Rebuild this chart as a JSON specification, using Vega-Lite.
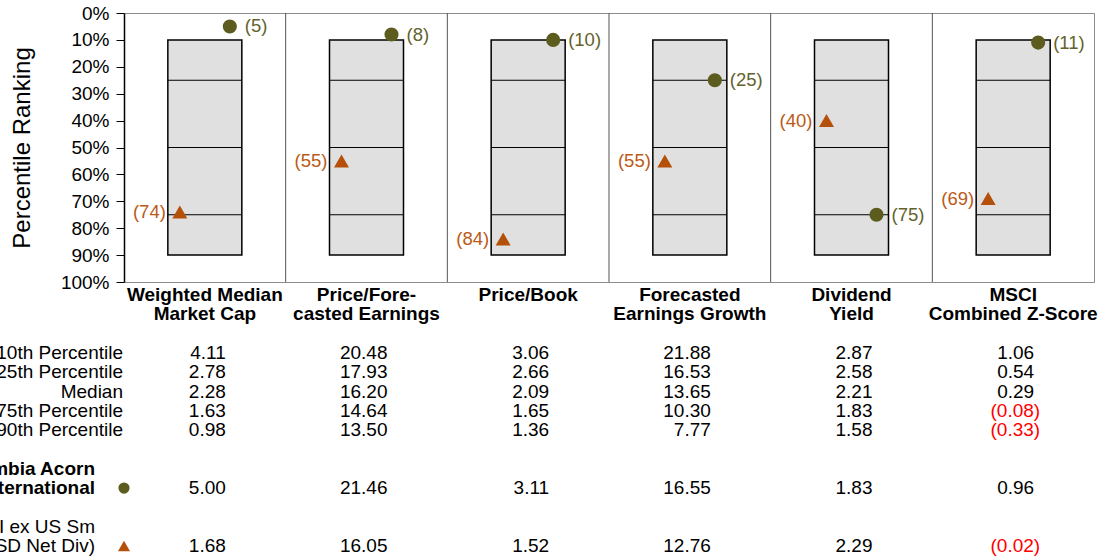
{
  "$schema": "https://vega.github.io/schema/vega-lite/v6.json",
  "width": 970,
  "height": 269,
  "autosize": {"type": "none"},
  "padding": {"left": 124, "top": 13, "right": 10, "bottom": 275},
  "background": "white",
  "config": {"font": "Liberation Sans", "view": {"stroke": "#8c8c8c", "strokeWidth": 1}},
  "datasets": {
    "metrics": [
      {"metric": "Weighted Median Market Cap", "top": 10, "q1": 25, "mid": 50, "q3": 75, "bottom": 90, "fund": 5, "bench": 74, "fundLab": "(5)", "benchLab": "(74)"},
      {"metric": "Price/Forecasted Earnings", "top": 10, "q1": 25, "mid": 50, "q3": 75, "bottom": 90, "fund": 8, "bench": 55, "fundLab": "(8)", "benchLab": "(55)"},
      {"metric": "Price/Book", "top": 10, "q1": 25, "mid": 50, "q3": 75, "bottom": 90, "fund": 10, "bench": 84, "fundLab": "(10)", "benchLab": "(84)"},
      {"metric": "Forecasted Earnings Growth", "top": 10, "q1": 25, "mid": 50, "q3": 75, "bottom": 90, "fund": 25, "bench": 55, "fundLab": "(25)", "benchLab": "(55)"},
      {"metric": "Dividend Yield", "top": 10, "q1": 25, "mid": 50, "q3": 75, "bottom": 90, "fund": 75, "bench": 40, "fundLab": "(75)", "benchLab": "(40)"},
      {"metric": "MSCI Combined Z-Score", "top": 10, "q1": 25, "mid": 50, "q3": 75, "bottom": 90, "fund": 11, "bench": 69, "fundLab": "(11)", "benchLab": "(69)"}
    ],
    "table": [
      {"kind": "head", "metric": "Weighted Median Market Cap", "line": 0, "text": "Weighted Median"},
      {"kind": "head", "metric": "Weighted Median Market Cap", "line": 1, "text": "Market Cap"},
      {"kind": "head", "metric": "Price/Forecasted Earnings", "line": 0, "text": "Price/Fore-"},
      {"kind": "head", "metric": "Price/Forecasted Earnings", "line": 1, "text": "casted Earnings"},
      {"kind": "head", "metric": "Price/Book", "line": 0, "text": "Price/Book"},
      {"kind": "head", "metric": "Forecasted Earnings Growth", "line": 0, "text": "Forecasted"},
      {"kind": "head", "metric": "Forecasted Earnings Growth", "line": 1, "text": "Earnings Growth"},
      {"kind": "head", "metric": "Dividend Yield", "line": 0, "text": "Dividend"},
      {"kind": "head", "metric": "Dividend Yield", "line": 1, "text": "Yield"},
      {"kind": "head", "metric": "MSCI Combined Z-Score", "line": 0, "text": "MSCI"},
      {"kind": "head", "metric": "MSCI Combined Z-Score", "line": 1, "text": "Combined Z-Score"},
      {"kind": "rowlab", "metric": "_label", "line": 3, "text": "10th Percentile"},
      {"kind": "rowlab", "metric": "_label", "line": 4, "text": "25th Percentile"},
      {"kind": "rowlab", "metric": "_label", "line": 5, "text": "Median"},
      {"kind": "rowlab", "metric": "_label", "line": 6, "text": "75th Percentile"},
      {"kind": "rowlab", "metric": "_label", "line": 7, "text": "90th Percentile"},
      {"kind": "fundlab", "metric": "_label", "line": 9, "text": "Columbia Acorn"},
      {"kind": "fundlab", "metric": "_label", "line": 10, "text": "International"},
      {"kind": "benchlab", "metric": "_label", "line": 12, "text": "MSCI ACWI ex US Sm"},
      {"kind": "benchlab", "metric": "_label", "line": 13, "text": "Cap (USD Net Div)"},
      {"kind": "fundmark", "metric": "_label", "line": 10},
      {"kind": "benchmark", "metric": "_label", "line": 13},
      {"kind": "val", "metric": "Weighted Median Market Cap", "line": 3, "value": 4.11},
      {"kind": "val", "metric": "Price/Forecasted Earnings", "line": 3, "value": 20.48},
      {"kind": "val", "metric": "Price/Book", "line": 3, "value": 3.06},
      {"kind": "val", "metric": "Forecasted Earnings Growth", "line": 3, "value": 21.88},
      {"kind": "val", "metric": "Dividend Yield", "line": 3, "value": 2.87},
      {"kind": "val", "metric": "MSCI Combined Z-Score", "line": 3, "value": 1.06},
      {"kind": "val", "metric": "Weighted Median Market Cap", "line": 4, "value": 2.78},
      {"kind": "val", "metric": "Price/Forecasted Earnings", "line": 4, "value": 17.93},
      {"kind": "val", "metric": "Price/Book", "line": 4, "value": 2.66},
      {"kind": "val", "metric": "Forecasted Earnings Growth", "line": 4, "value": 16.53},
      {"kind": "val", "metric": "Dividend Yield", "line": 4, "value": 2.58},
      {"kind": "val", "metric": "MSCI Combined Z-Score", "line": 4, "value": 0.54},
      {"kind": "val", "metric": "Weighted Median Market Cap", "line": 5, "value": 2.28},
      {"kind": "val", "metric": "Price/Forecasted Earnings", "line": 5, "value": 16.20},
      {"kind": "val", "metric": "Price/Book", "line": 5, "value": 2.09},
      {"kind": "val", "metric": "Forecasted Earnings Growth", "line": 5, "value": 13.65},
      {"kind": "val", "metric": "Dividend Yield", "line": 5, "value": 2.21},
      {"kind": "val", "metric": "MSCI Combined Z-Score", "line": 5, "value": 0.29},
      {"kind": "val", "metric": "Weighted Median Market Cap", "line": 6, "value": 1.63},
      {"kind": "val", "metric": "Price/Forecasted Earnings", "line": 6, "value": 14.64},
      {"kind": "val", "metric": "Price/Book", "line": 6, "value": 1.65},
      {"kind": "val", "metric": "Forecasted Earnings Growth", "line": 6, "value": 10.30},
      {"kind": "val", "metric": "Dividend Yield", "line": 6, "value": 1.83},
      {"kind": "val", "metric": "MSCI Combined Z-Score", "line": 6, "value": -0.08},
      {"kind": "val", "metric": "Weighted Median Market Cap", "line": 7, "value": 0.98},
      {"kind": "val", "metric": "Price/Forecasted Earnings", "line": 7, "value": 13.50},
      {"kind": "val", "metric": "Price/Book", "line": 7, "value": 1.36},
      {"kind": "val", "metric": "Forecasted Earnings Growth", "line": 7, "value": 7.77},
      {"kind": "val", "metric": "Dividend Yield", "line": 7, "value": 1.58},
      {"kind": "val", "metric": "MSCI Combined Z-Score", "line": 7, "value": -0.33},
      {"kind": "val", "metric": "Weighted Median Market Cap", "line": 10, "value": 5.00},
      {"kind": "val", "metric": "Price/Forecasted Earnings", "line": 10, "value": 21.46},
      {"kind": "val", "metric": "Price/Book", "line": 10, "value": 3.11},
      {"kind": "val", "metric": "Forecasted Earnings Growth", "line": 10, "value": 16.55},
      {"kind": "val", "metric": "Dividend Yield", "line": 10, "value": 1.83},
      {"kind": "val", "metric": "MSCI Combined Z-Score", "line": 10, "value": 0.96},
      {"kind": "val", "metric": "Weighted Median Market Cap", "line": 13, "value": 1.68},
      {"kind": "val", "metric": "Price/Forecasted Earnings", "line": 13, "value": 16.05},
      {"kind": "val", "metric": "Price/Book", "line": 13, "value": 1.52},
      {"kind": "val", "metric": "Forecasted Earnings Growth", "line": 13, "value": 12.76},
      {"kind": "val", "metric": "Dividend Yield", "line": 13, "value": 2.29},
      {"kind": "val", "metric": "MSCI Combined Z-Score", "line": 13, "value": -0.02}
    ]
  },
  "resolve": {"scale": {"y": "independent"}, "axis": {"y": "independent"}},
  "layer": [
    {
      "data": {"name": "metrics"},
      "mark": {"type": "bar", "width": 74, "fill": "#e0e0e0", "stroke": "#000000", "strokeWidth": 1.5},
      "encoding": {
        "x": {"field": "metric", "type": "nominal", "scale": {"domain": ["_label", "Weighted Median Market Cap", "Price/Forecasted Earnings", "Price/Book", "Forecasted Earnings Growth", "Dividend Yield", "MSCI Combined Z-Score"], "range": [-161.667, 970], "paddingInner": 0, "paddingOuter": 0}, "axis": null},
        "y": {"field": "top", "type": "quantitative", "scale": {"domain": [0, 100], "reverse": true, "nice": false, "zero": false},
          "axis": {"orient": "left", "title": "Percentile Ranking", "values": [0, 10, 20, 30, 40, 50, 60, 70, 80, 90, 100], "labelExpr": "datum.value + '%'", "grid": false, "domain": true, "domainColor": "#000000", "domainWidth": 1.5, "ticks": true, "tickColor": "#000000", "tickSize": 8, "tickWidth": 1, "labels": true, "labelFontSize": 19, "labelColor": "#000000", "labelPadding": 7, "labelOverlap": false, "labelFont": "Liberation Sans", "titleFont": "Liberation Sans", "titleFontSize": 24, "titleFontWeight": "normal", "titleColor": "#000000", "titlePadding": 26}},
        "y2": {"field": "bottom"}
      }
    },
    {
      "data": {"name": "metrics"},
      "transform": [{"filter": "datum.metric != 'Weighted Median Market Cap'"}],
      "mark": {"type": "rule", "color": "#555555", "strokeWidth": 1},
      "encoding": {
        "x": {"field": "metric", "type": "nominal", "bandPosition": 0, "scale": {"domain": ["_label", "Weighted Median Market Cap", "Price/Forecasted Earnings", "Price/Book", "Forecasted Earnings Growth", "Dividend Yield", "MSCI Combined Z-Score"], "range": [-161.667, 970], "paddingInner": 0, "paddingOuter": 0}, "axis": null}
      }
    },
    {
      "data": {"name": "metrics"},
      "transform": [{"fold": ["q1", "mid", "q3"], "as": ["quart", "pct"]}],
      "mark": {"type": "tick", "size": 74, "thickness": 1.2, "color": "#000000", "opacity": 1},
      "encoding": {
        "x": {"field": "metric", "type": "nominal", "scale": {"domain": ["_label", "Weighted Median Market Cap", "Price/Forecasted Earnings", "Price/Book", "Forecasted Earnings Growth", "Dividend Yield", "MSCI Combined Z-Score"], "range": [-161.667, 970], "paddingInner": 0, "paddingOuter": 0}, "axis": null},
        "y": {"field": "pct", "type": "quantitative", "scale": {"domain": [0, 100], "reverse": true, "nice": false, "zero": false}, "axis": null}
      }
    },
    {
      "data": {"name": "metrics"},
      "mark": {"type": "point", "shape": "circle", "filled": true, "size": 200, "color": "#5c5c1e", "opacity": 1, "xOffset": 25},
      "encoding": {
        "x": {"field": "metric", "type": "nominal", "scale": {"domain": ["_label", "Weighted Median Market Cap", "Price/Forecasted Earnings", "Price/Book", "Forecasted Earnings Growth", "Dividend Yield", "MSCI Combined Z-Score"], "range": [-161.667, 970], "paddingInner": 0, "paddingOuter": 0}, "axis": null},
        "y": {"field": "fund", "type": "quantitative", "scale": {"domain": [0, 100], "reverse": true, "nice": false, "zero": false}, "axis": null}
      }
    },
    {
      "data": {"name": "metrics"},
      "mark": {"type": "text", "align": "left", "baseline": "middle", "xOffset": 25, "dx": 15, "fontSize": 18.5, "color": "#62622a"},
      "encoding": {
        "x": {"field": "metric", "type": "nominal", "scale": {"domain": ["_label", "Weighted Median Market Cap", "Price/Forecasted Earnings", "Price/Book", "Forecasted Earnings Growth", "Dividend Yield", "MSCI Combined Z-Score"], "range": [-161.667, 970], "paddingInner": 0, "paddingOuter": 0}, "axis": null},
        "y": {"field": "fund", "type": "quantitative", "scale": {"domain": [0, 100], "reverse": true, "nice": false, "zero": false}, "axis": null},
        "text": {"field": "fundLab"}
      }
    },
    {
      "data": {"name": "metrics"},
      "mark": {"type": "point", "shape": "triangle-up", "filled": true, "size": 225, "color": "#b4500a", "opacity": 1, "xOffset": -25},
      "encoding": {
        "x": {"field": "metric", "type": "nominal", "scale": {"domain": ["_label", "Weighted Median Market Cap", "Price/Forecasted Earnings", "Price/Book", "Forecasted Earnings Growth", "Dividend Yield", "MSCI Combined Z-Score"], "range": [-161.667, 970], "paddingInner": 0, "paddingOuter": 0}, "axis": null},
        "y": {"field": "bench", "type": "quantitative", "scale": {"domain": [0, 100], "reverse": true, "nice": false, "zero": false}, "axis": null}
      }
    },
    {
      "data": {"name": "metrics"},
      "mark": {"type": "text", "align": "right", "baseline": "middle", "xOffset": -25, "dx": -14, "fontSize": 18.5, "color": "#bb5a16"},
      "encoding": {
        "x": {"field": "metric", "type": "nominal", "scale": {"domain": ["_label", "Weighted Median Market Cap", "Price/Forecasted Earnings", "Price/Book", "Forecasted Earnings Growth", "Dividend Yield", "MSCI Combined Z-Score"], "range": [-161.667, 970], "paddingInner": 0, "paddingOuter": 0}, "axis": null},
        "y": {"field": "bench", "type": "quantitative", "scale": {"domain": [0, 100], "reverse": true, "nice": false, "zero": false}, "axis": null},
        "text": {"field": "benchLab"}
      }
    },
    {
      "data": {"name": "table"},
      "transform": [{"filter": "datum.kind == 'head'"}],
      "mark": {"type": "text", "align": "center", "baseline": "middle", "fontSize": 19, "fontWeight": "bold", "color": "#000000"},
      "encoding": {
        "x": {"field": "metric", "type": "nominal", "scale": {"domain": ["_label", "Weighted Median Market Cap", "Price/Forecasted Earnings", "Price/Book", "Forecasted Earnings Growth", "Dividend Yield", "MSCI Combined Z-Score"], "range": [-161.667, 970], "paddingInner": 0, "paddingOuter": 0}, "axis": null},
        "y": {"field": "line", "type": "quantitative", "scale": {"domain": [0, 13], "range": [282, 533], "nice": false, "zero": false}, "axis": null},
        "text": {"field": "text"}
      }
    },
    {
      "data": {"name": "table"},
      "transform": [{"filter": "datum.kind == 'val' && datum.value >= 0"}],
      "mark": {"type": "text", "align": "right", "baseline": "middle", "dx": 21, "fontSize": 19, "color": "#000000"},
      "encoding": {
        "x": {"field": "metric", "type": "nominal", "scale": {"domain": ["_label", "Weighted Median Market Cap", "Price/Forecasted Earnings", "Price/Book", "Forecasted Earnings Growth", "Dividend Yield", "MSCI Combined Z-Score"], "range": [-161.667, 970], "paddingInner": 0, "paddingOuter": 0}, "axis": null},
        "y": {"field": "line", "type": "quantitative", "scale": {"domain": [0, 13], "range": [282, 533], "nice": false, "zero": false}, "axis": null},
        "text": {"field": "value", "type": "quantitative", "format": "(.2f"}
      }
    },
    {
      "data": {"name": "table"},
      "transform": [{"filter": "datum.kind == 'val' && datum.value < 0"}],
      "mark": {"type": "text", "align": "right", "baseline": "middle", "dx": 27, "fontSize": 19, "color": "#ff0000"},
      "encoding": {
        "x": {"field": "metric", "type": "nominal", "scale": {"domain": ["_label", "Weighted Median Market Cap", "Price/Forecasted Earnings", "Price/Book", "Forecasted Earnings Growth", "Dividend Yield", "MSCI Combined Z-Score"], "range": [-161.667, 970], "paddingInner": 0, "paddingOuter": 0}, "axis": null},
        "y": {"field": "line", "type": "quantitative", "scale": {"domain": [0, 13], "range": [282, 533], "nice": false, "zero": false}, "axis": null},
        "text": {"field": "value", "type": "quantitative", "format": "(.2f"}
      }
    },
    {
      "data": {"name": "table"},
      "transform": [{"filter": "datum.kind == 'rowlab'"}],
      "mark": {"type": "text", "align": "right", "baseline": "middle", "dx": -1, "fontSize": 19, "color": "#000000"},
      "encoding": {
        "x": {"field": "metric", "type": "nominal", "bandPosition": 1, "scale": {"domain": ["_label", "Weighted Median Market Cap", "Price/Forecasted Earnings", "Price/Book", "Forecasted Earnings Growth", "Dividend Yield", "MSCI Combined Z-Score"], "range": [-161.667, 970], "paddingInner": 0, "paddingOuter": 0}, "axis": null},
        "y": {"field": "line", "type": "quantitative", "scale": {"domain": [0, 13], "range": [282, 533], "nice": false, "zero": false}, "axis": null},
        "text": {"field": "text"}
      }
    },
    {
      "data": {"name": "table"},
      "transform": [{"filter": "datum.kind == 'fundlab'"}],
      "mark": {"type": "text", "align": "right", "baseline": "middle", "dx": -29, "fontSize": 19, "fontWeight": "bold", "color": "#000000"},
      "encoding": {
        "x": {"field": "metric", "type": "nominal", "bandPosition": 1, "scale": {"domain": ["_label", "Weighted Median Market Cap", "Price/Forecasted Earnings", "Price/Book", "Forecasted Earnings Growth", "Dividend Yield", "MSCI Combined Z-Score"], "range": [-161.667, 970], "paddingInner": 0, "paddingOuter": 0}, "axis": null},
        "y": {"field": "line", "type": "quantitative", "scale": {"domain": [0, 13], "range": [282, 533], "nice": false, "zero": false}, "axis": null},
        "text": {"field": "text"}
      }
    },
    {
      "data": {"name": "table"},
      "transform": [{"filter": "datum.kind == 'benchlab'"}],
      "mark": {"type": "text", "align": "right", "baseline": "middle", "dx": -29, "fontSize": 19, "color": "#000000"},
      "encoding": {
        "x": {"field": "metric", "type": "nominal", "bandPosition": 1, "scale": {"domain": ["_label", "Weighted Median Market Cap", "Price/Forecasted Earnings", "Price/Book", "Forecasted Earnings Growth", "Dividend Yield", "MSCI Combined Z-Score"], "range": [-161.667, 970], "paddingInner": 0, "paddingOuter": 0}, "axis": null},
        "y": {"field": "line", "type": "quantitative", "scale": {"domain": [0, 13], "range": [282, 533], "nice": false, "zero": false}, "axis": null},
        "text": {"field": "text"}
      }
    },
    {
      "data": {"name": "table"},
      "transform": [{"filter": "datum.kind == 'fundmark'"}],
      "mark": {"type": "point", "shape": "circle", "filled": true, "size": 125, "color": "#5c5c1e", "opacity": 1},
      "encoding": {
        "x": {"field": "metric", "type": "nominal", "bandPosition": 1, "scale": {"domain": ["_label", "Weighted Median Market Cap", "Price/Forecasted Earnings", "Price/Book", "Forecasted Earnings Growth", "Dividend Yield", "MSCI Combined Z-Score"], "range": [-161.667, 970], "paddingInner": 0, "paddingOuter": 0}, "axis": null},
        "y": {"field": "line", "type": "quantitative", "scale": {"domain": [0, 13], "range": [282, 533], "nice": false, "zero": false}, "axis": null}
      }
    },
    {
      "data": {"name": "table"},
      "transform": [{"filter": "datum.kind == 'benchmark'"}],
      "mark": {"type": "point", "shape": "triangle-up", "filled": true, "size": 144, "color": "#b4500a", "opacity": 1},
      "encoding": {
        "x": {"field": "metric", "type": "nominal", "bandPosition": 1, "scale": {"domain": ["_label", "Weighted Median Market Cap", "Price/Forecasted Earnings", "Price/Book", "Forecasted Earnings Growth", "Dividend Yield", "MSCI Combined Z-Score"], "range": [-161.667, 970], "paddingInner": 0, "paddingOuter": 0}, "axis": null},
        "y": {"field": "line", "type": "quantitative", "scale": {"domain": [0, 13], "range": [282, 533], "nice": false, "zero": false}, "axis": null}
      }
    }
  ]
}
